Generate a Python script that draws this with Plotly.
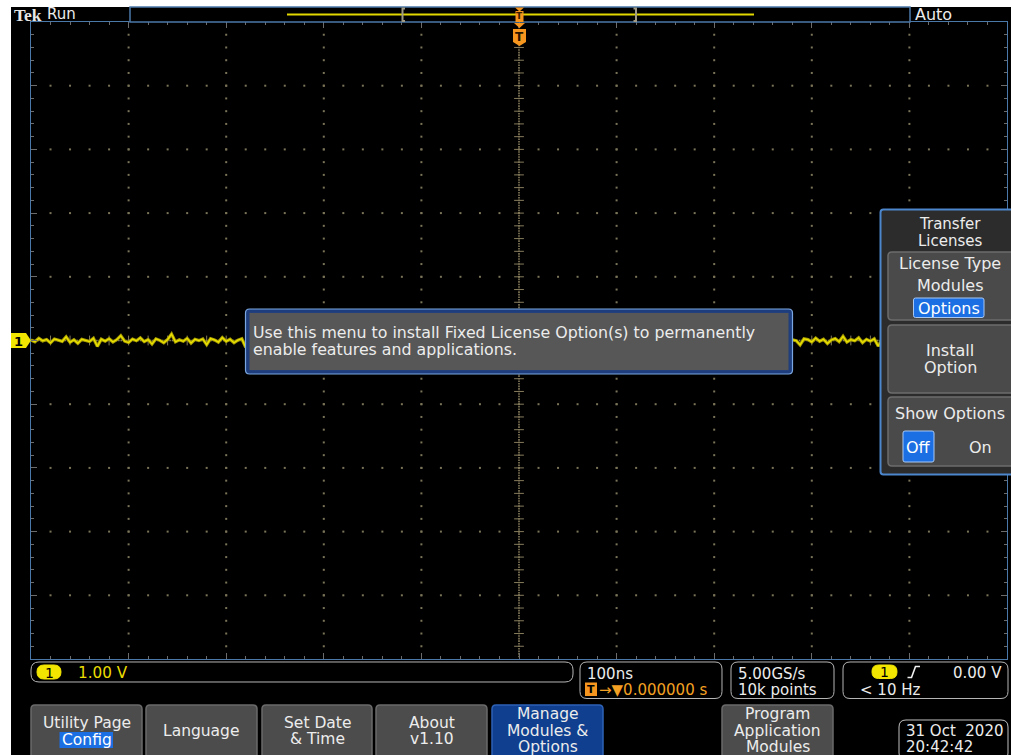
import plotly.graph_objects as go

# ---------------------------------------------------------------------------
# Acquisition settings and readouts
# ---------------------------------------------------------------------------
time_per_div_ns = 100          # 100ns / div
volts_per_div = 1.0            # CH1 1.00 V / div
h_divs = 10
v_divs = 10
minor_per_div = 5

ch1_scale_label = "1.00 V"
horiz_scale_label = "100ns"
trigger_pos_label = "0.000000 s"
sample_rate_label = "5.00GS/s"
record_len_label = "10k points"
trigger_level_label = "0.00 V"
trigger_freq_label = "< 10 Hz"
date_label = "31 Oct\u00a0 2020"
time_label = "20:42:42"

# CH1 noise around 0 V (mV), one sample every 4 ns across the screen
wave_mv = [
    8, -20, 34, -6, 16, -38, 24, 2, -14, 58, -28, 12, -44, 18, 6, -16, 36, -92, 20, -10,
    28, -24, 14, 76, -12, -32, 22, -4, 42, -18, 14, -56, 26, 2, -36, 16, 102, -22, 10, -12,
    34, -40, 18, -2, 24, -66, 30, 10, -26, 46, -14, 20, -34, 6, 28, -108, 16, -8, 38, -20,
    12, 64, -28, 18, -10, 32, -42, 8, 22, -16, 88, -24, 6, -38, 26, -4, 14, -50, 36, 4,
    -18, 28, -12, 70, -30, 16, -6, 40, -22, 10, -84, 24, -2, 32, -36, 18, 4, -14, 52, -26,
    20, -8, 30, -44, 12, 96, -18, 26, -10, 36, -30, 8, -62, 22, 14, -20, 44, -12, 4, -34,
    26, -6, 58, -24, 16, -40, 10, 30, -16, -98, 22, 6, -28, 38, -10, 18, 74, -32, 12, -4,
    32, -22, 8, -46, 24, 14, -12, 40, -36, 20, 2, -60, 28, -14, 84, -20, 10, -30, 34, -8,
    16, -42, 26, 6, -18, 50, -26, 12, -4, 30, -104, 18, -10, 36, -24, 8, 62, -16, 22, -38,
    10, 28, -14, 4, -32, 46, -20, 16, -8, 92, -28, 24, -6, 34, -40, 12, -2, -70, 26, 14,
    -22, 38, -12, 20, -48, 8, 30, -18, 66, -26, 14, -4, 42, -34, 18, -10, 26, -88, 12, 6,
    -16, 34, -28, 22, -8, 54, -20, 10, -42, 28, 4, -14, 80, -30, 16, -6, 36, -24, 8, -52,
    24, -10, 30, -36, 14, 98, -18, 20, -4, 32, -26,
]

# bottom soft-key labels
softkeys = [
    ("Utility Page", None),
    ("Language", None),
    ("Set Date<br>& Time", None),
    ("About<br>v1.10", None),
    ("Manage<br>Modules &<br>Options", "active"),
    (None, None),
    ("Program<br>Application<br>Modules", None),
]

# ---------------------------------------------------------------------------
W, H = 1011, 755
FONT = "DejaVu Sans"
YEL = "#f2e600"
ORANGE = "#f7961e"
TXT = "#ececec"
BLUE_HI = "#1c6fe3"
FS = 15.5       # general UI text size
FS_MENU = 16


def X(p):
    return p / W


def Y(p):
    return 1 - p / H


shapes = []
annotations = []


def rrect(x0, y0, x1, y1, r, fill="rgba(0,0,0,0)", line="#b5b5b5", lw=1.0):
    pts = [
        ("M", x0 + r, y0), ("L", x1 - r, y0), ("Q", x1, y0, x1, y0 + r),
        ("L", x1, y1 - r), ("Q", x1, y1, x1 - r, y1), ("L", x0 + r, y1),
        ("Q", x0, y1, x0, y1 - r), ("L", x0, y0 + r), ("Q", x0, y0, x0 + r, y0),
    ]
    parts = []
    for p in pts:
        cmd = p[0]
        coords = p[1:]
        c = []
        for i in range(0, len(coords), 2):
            c.append(f"{X(coords[i]):.6f},{Y(coords[i + 1]):.6f}")
        parts.append(cmd + " " + " ".join(c))
    path = " ".join(parts) + " Z"
    shapes.append(dict(type="path", path=path, xref="paper", yref="paper",
                       fillcolor=fill, line=dict(color=line, width=lw), layer="above"))


def rect(x0, y0, x1, y1, fill, line=None, lw=0):
    shapes.append(dict(type="rect", xref="paper", yref="paper",
                       x0=X(x0), x1=X(x1), y0=Y(y1), y1=Y(y0),
                       fillcolor=fill,
                       line=dict(color=line or fill, width=lw), layer="above"))


def poly(pts, fill, line=None, lw=0, closed=True):
    path = "M " + " L ".join(f"{X(a):.6f},{Y(b):.6f}" for a, b in pts)
    if closed:
        path += " Z"
    shapes.append(dict(type="path", path=path, xref="paper", yref="paper",
                       fillcolor=fill if closed else "rgba(0,0,0,0)",
                       line=dict(color=line or fill, width=lw), layer="above"))


def txt(x, y, s, size=FS, color=TXT, xa="left", ya="middle", family=FONT):
    annotations.append(dict(x=X(x), y=Y(y), xref="paper", yref="paper", text=s,
                            showarrow=False, xanchor=xa, yanchor=ya,
                            font=dict(size=size, color=color, family=family),
                            borderpad=0))


# ---------------------------------------------------------------------------
# Graticule
# ---------------------------------------------------------------------------
x_half = h_divs / 2 * time_per_div_ns
y_half = v_divs / 2 * volts_per_div
x_minor = time_per_div_ns / minor_per_div
y_minor = volts_per_div / minor_per_div

major_x = [(-h_divs // 2 + i) * time_per_div_ns for i in range(1, h_divs)]
major_y = [(-v_divs // 2 + i) * volts_per_div for i in range(1, v_divs)]
minor_x = [-x_half + i * x_minor for i in range(1, h_divs * minor_per_div)]
minor_y = [-y_half + i * y_minor for i in range(1, v_divs * minor_per_div)]

gx, gy = [], []
for mx in major_x:
    if mx == 0:
        continue
    for my in minor_y:
        gx.append(mx)
        gy.append(my)
for my in major_y:
    if my == 0:
        continue
    for mx in minor_x:
        gx.append(mx)
        gy.append(my)

# dense centre cross
cx, cy = [], []
n_dense = v_divs * minor_per_div * 5
for i in range(1, n_dense):
    cx.append(0)
    cy.append(-y_half + i * (2 * y_half / n_dense))
n_dense_x = h_divs * minor_per_div * 8
for i in range(1, n_dense_x):
    cx.append(-x_half + i * (2 * x_half / n_dense_x))
    cy.append(0)

fig = go.Figure()

fig.add_trace(go.Scatter(x=gx, y=gy, mode="markers", hoverinfo="skip",
                         marker=dict(symbol="square", size=2, color="#7a7458",
                                     line=dict(width=0))))
fig.add_trace(go.Scatter(x=cx, y=cy, mode="markers", hoverinfo="skip",
                         marker=dict(symbol="square", size=1.6, color="#867c5c",
                                     line=dict(width=0))))
fig.add_trace(go.Scatter(x=[0] * len(minor_y), y=minor_y, mode="markers", hoverinfo="skip",
                         marker=dict(symbol="line-ew", size=7,
                                     line=dict(width=1, color="#867c5c"))))
fig.add_trace(go.Scatter(x=minor_x, y=[0] * len(minor_x), mode="markers", hoverinfo="skip",
                         marker=dict(symbol="line-ns", size=7,
                                     line=dict(width=1, color="#867c5c"))))

# CH1 waveform: a broad dim trace under a brighter thin one
n = len(wave_mv)
step = 2 * x_half / (n - 1)
t_ns = [-x_half + i * step for i in range(n)]
v = [mv / 1000.0 for mv in wave_mv]
fig.add_trace(go.Scatter(x=t_ns, y=v, mode="lines", hoverinfo="skip",
                         line=dict(color="#a89e00", width=3.2)))
fig.add_trace(go.Scatter(x=t_ns, y=v, mode="lines", hoverinfo="skip",
                         line=dict(color="#ece200", width=1.3)))

# ---------------------------------------------------------------------------
# Screen furniture
# ---------------------------------------------------------------------------
rect(0, 0, 11, H, "#ffffff")
rect(0, 0, W, 7, "#ffffff")

# top record bar
rect(130, 7, 910, 22, "#000000", line="#4a78a8", lw=1.5)
poly([(287, 14.5), (754, 14.5)], "#000000", line="#e2d800", lw=2, closed=False)
poly([(405, 8.5), (402.5, 8.5), (402.5, 21), (405, 21)], None, line="#a09a84", lw=2, closed=False)
poly([(633.5, 8.5), (636, 8.5), (636, 21), (633.5, 21)], None, line="#a09a84", lw=2, closed=False)
poly([(515, 7.5), (524, 7.5), (519.5, 11.5)], ORANGE)
rect(515.5, 11, 523.5, 22, ORANGE)
poly([(514, 23), (525, 23), (519.5, 28)], ORANGE)
txt(519.5, 16.5, "<b>T</b>", size=9, color="#3a2000", xa="center")
# trigger position marker
poly([(513, 29), (526, 29), (526, 42), (519.5, 46), (513, 42)], ORANGE)
txt(519.5, 37, "<b>T</b>", size=12, color="#2a1500", xa="center")

txt(12.5, 15, "<b>Tek</b>", size=17.5, color="#e6e6e6", family="Liberation Serif")
txt(46, 14.5, "Run", size=15)
txt(914, 14.5, "Auto", size=16)

# CH1 ground marker
poly([(11, 333), (26, 333), (31, 340.5), (26, 348), (11, 348)], YEL)
txt(18.5, 341, "<b>1</b>", size=13, color="#000000", xa="center")

# message box
rrect(245.5, 309, 792.5, 374, 4, fill="#1e3d7c", line="#7aa7e2", lw=1.2)
rect(249, 312.5, 789, 370.5, "#575757", line="#233f7c", lw=1)
txt(252, 332.5, "Use this menu to install Fixed License Option(s) to permanently", size=15.8)
txt(252, 349.5, "enable features and applications.", size=15.8)

# side menu
rrect(880.5, 209.5, 1016, 474.5, 3, fill="#2c2c2c", line="#4c86cc", lw=2)
txt(950, 223.5, "Transfer", size=15, xa="center")
txt(950, 240.5, "Licenses", size=15, xa="center")
rrect(888, 252, 1016, 320, 4, fill="#4a4a4a", line="#6c6c6c", lw=1.5)
txt(950, 263.5, "License Type", size=FS_MENU, xa="center")
txt(950, 285.5, "Modules", size=FS_MENU, xa="center")
rrect(913.5, 298, 984, 317.5, 2, fill=BLUE_HI, line="#a8c8f2", lw=1)
txt(949, 308, "Options", size=FS_MENU, xa="center", color="#ffffff")
rrect(888, 325, 1016, 393, 4, fill="#4a4a4a", line="#6c6c6c", lw=1.5)
txt(950, 350.5, "Install", size=FS_MENU, xa="center")
txt(950, 367, "Option", size=FS_MENU, xa="center")
rrect(888, 397, 1016, 466, 4, fill="#4a4a4a", line="#6c6c6c", lw=1.5)
txt(950, 413.5, "Show Options", size=FS_MENU, xa="center")
rrect(903, 431, 934, 462, 2, fill=BLUE_HI, line="#a8c8f2", lw=1)
txt(918.5, 447, "Off", size=FS_MENU, xa="center", color="#ffffff")
txt(980, 447, "On", size=FS_MENU, xa="center")

# readout row
rrect(31, 662, 573, 682, 8, fill="#000000", line="#b5b5b5", lw=1)
rrect(37, 665, 61, 679, 7, fill=YEL, line=YEL)
txt(49, 672.5, "1", size=14, color="#000000", xa="center")
txt(77, 672.5, ch1_scale_label, size=15.2, color="#eadc00")

rrect(580, 662, 722, 698.5, 7, fill="#000000", line="#b5b5b5", lw=1)
txt(586, 673.5, horiz_scale_label, size=15)
rect(585, 682.5, 597, 696, ORANGE)
txt(591, 689.5, "<b>T</b>", size=11, color="#000000", xa="center")
txt(598, 689.5, "\u2192\u25bc" + trigger_pos_label, size=15, color="#f4a022")

rrect(731, 662, 834, 698.5, 7, fill="#000000", line="#b5b5b5", lw=1)
txt(737, 673.5, sample_rate_label, size=15)
txt(737, 689.5, record_len_label, size=15)

rrect(843, 662, 1008, 698.5, 7, fill="#000000", line="#b5b5b5", lw=1)
rrect(872, 665, 897, 678.5, 6.5, fill=YEL, line=YEL)
txt(884.5, 672, "1", size=14, color="#000000", xa="center")
poly([(907.5, 677.5), (911.5, 677.5), (915.5, 666.5), (920, 666.5)], None,
     line="#f0f0f0", lw=1.6, closed=False)
txt(1003, 672.5, trigger_level_label, size=15, xa="right")
txt(859, 690, trigger_freq_label, size=15)

# soft keys
key_x = [(31, 142), (146, 257), (262, 372), (376, 487), (492, 603), (607, 718), (722, 833)]
for (x0, x1), (label, state) in zip(key_x, softkeys):
    if label is None:
        continue
    if state == "active":
        rrect(x0, 705, x1, 760, 4, fill="#0f3f8e", line="#2e62b6", lw=1.5)
    else:
        rrect(x0, 705, x1, 760, 4, fill="#4c4c4c", line="#6a6a6a", lw=1.5)
    cx_ = (x0 + x1) / 2
    lines = label.split("<br>")
    if label == "Utility Page":
        txt(cx_, 723, label, xa="center")
        rect(59.5, 732, 113, 748, BLUE_HI)
        txt(cx_, 740, "Config", xa="center", color="#ffffff")
    elif len(lines) == 1:
        txt(cx_, 731, label, xa="center")
    elif len(lines) == 2:
        txt(cx_, 722.5, lines[0], xa="center")
        txt(cx_, 739, lines[1], xa="center")
    else:
        for k, ln in enumerate(lines):
            txt(cx_, 714 + k * 16.5, ln, xa="center")

rrect(899, 720, 1008, 760, 7, fill="#000000", line="#c0c0c0", lw=1)
txt(905, 730.5, date_label, size=15)
txt(905, 746.5, time_label, size=15)

# ---------------------------------------------------------------------------
frame = "#4a78a8"
fig.update_layout(
    width=W, height=H,
    margin=dict(l=0, r=0, t=0, b=0),
    paper_bgcolor="#000000",
    plot_bgcolor="#000000",
    showlegend=False,
    shapes=shapes,
    annotations=annotations,
    xaxis=dict(range=[-x_half, x_half], domain=[X(31), X(1007)],
               showgrid=False, zeroline=False, showticklabels=False,
               showline=True, linecolor=frame, linewidth=1.2, mirror="ticks",
               ticks="inside", tick0=0, dtick=time_per_div_ns, ticklen=6,
               tickcolor="#6c6c6c", tickwidth=1,
               minor=dict(ticks="inside", dtick=x_minor, ticklen=3,
                          tickcolor="#6c6c6c", tickwidth=1, showgrid=False),
               fixedrange=True),
    yaxis=dict(range=[-y_half, y_half], domain=[Y(659), Y(22)],
               showgrid=False, zeroline=False, showticklabels=False,
               showline=True, linecolor=frame, linewidth=1.2, mirror="ticks",
               ticks="inside", tick0=0, dtick=volts_per_div, ticklen=6,
               tickcolor="#6c6c6c", tickwidth=1,
               minor=dict(ticks="inside", dtick=y_minor, ticklen=3,
                          tickcolor="#6c6c6c", tickwidth=1, showgrid=False),
               fixedrange=True),
)

fig.write_html("out.html")
